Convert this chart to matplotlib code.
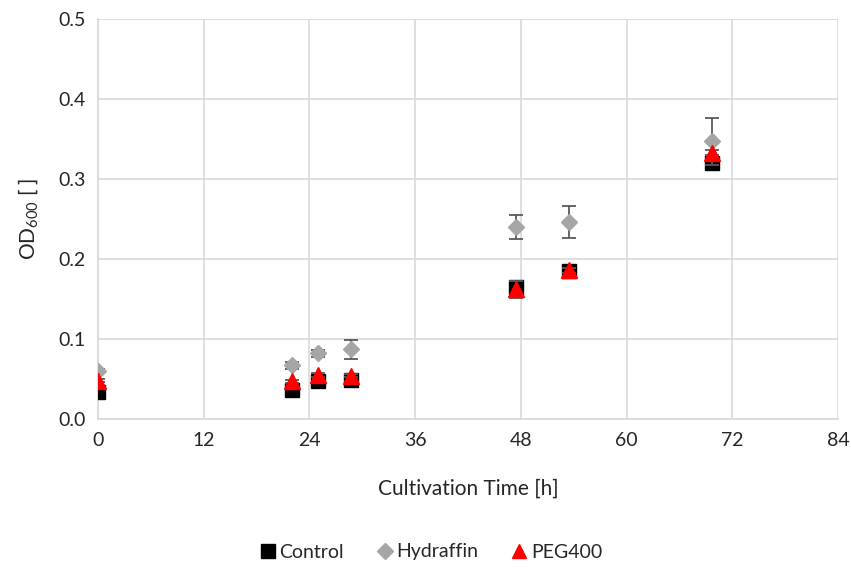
import matplotlib.pyplot as plt
from matplotlib.lines import Line2D

plt.rcParams["font.family"] = ["Lato", "DejaVu Sans"]
plt.rcParams["mathtext.fontset"] = "custom"
plt.rcParams["mathtext.rm"] = "Lato"

# data
time_h = [0, 22, 25, 28.75, 47.5, 53.5, 69.75]
control = [0.034, 0.036, 0.048, 0.049, 0.165, 0.185, 0.320]
control_err = [0.001, 0.002, 0.003, 0.002, 0.006, 0.003, 0.003]
hydraffin = [0.060, 0.067, 0.082, 0.087, 0.240, 0.246, 0.347]
hydraffin_err = [0.002, 0.004, 0.004, 0.012, 0.015, 0.020, 0.029]
peg400 = [0.048, 0.047, 0.055, 0.054, 0.162, 0.186, 0.333]
peg400_err = [0.002, 0.002, 0.003, 0.002, 0.011, 0.003, 0.003]

x_ticks = [0, 12, 24, 36, 48, 60, 72, 84]
y_ticks = [0.0, 0.1, 0.2, 0.3, 0.4, 0.5]

fig = plt.figure(figsize=(8.51, 5.70), dpi=100)
ax = fig.add_axes([98 / 851, 1 - 419 / 570, 740 / 851, 400 / 570])

err_col = "#595959"
styles = [
    ("Control", control, control_err, "s", "black", 10),
    ("Hydraffin", hydraffin, hydraffin_err, "D", "#a6a6a6", 8.5),
    ("PEG400", peg400, peg400_err, "^", "#ff0000", 11),
]
handles = []
for i, (name, vals, errs, mk, col, ms) in enumerate(styles):
    ax.errorbar(time_h, vals, yerr=errs, fmt=mk, color=col, markersize=ms,
                ecolor=err_col, elinewidth=1.3, capsize=5, capthick=1.3,
                zorder=3 + i)
    handles.append(Line2D([], [], linestyle="none", marker=mk, color=col,
                          markersize=ms * 0.95, label=name))

ax.set_xlim(0, 84)
ax.set_ylim(0, 0.5)
ax.set_xticks(x_ticks)
ax.set_yticks(y_ticks)
ax.set_yticklabels([f"{v:.1f}" for v in y_ticks])
ax.grid(True, color="#d9d9d9", linewidth=1.2)
ax.set_axisbelow(True)
for s in ["top", "right"]:
    ax.spines[s].set_visible(False)
for s in ["left", "bottom"]:
    ax.spines[s].set_color("#d9d9d9")
    ax.spines[s].set_linewidth(1.2)
ax.tick_params(length=0, labelsize=14, colors="#262626", pad=9)

ax.set_xlabel("Cultivation Time [h]", fontsize=15, color="#262626", labelpad=22)
ax.set_ylabel("OD$_{600}$ [ ]", fontsize=15, color="#262626", labelpad=12)

leg = fig.legend(handles=handles, loc="center",
                 bbox_to_anchor=(430 / 851, 1 - 552 / 570),
                 ncol=3, frameon=False, fontsize=14, handletextpad=0.1,
                 columnspacing=1.6, handlelength=1.0)
for t in leg.get_texts():
    t.set_color("#262626")

fig.savefig("out.png", dpi=100)
